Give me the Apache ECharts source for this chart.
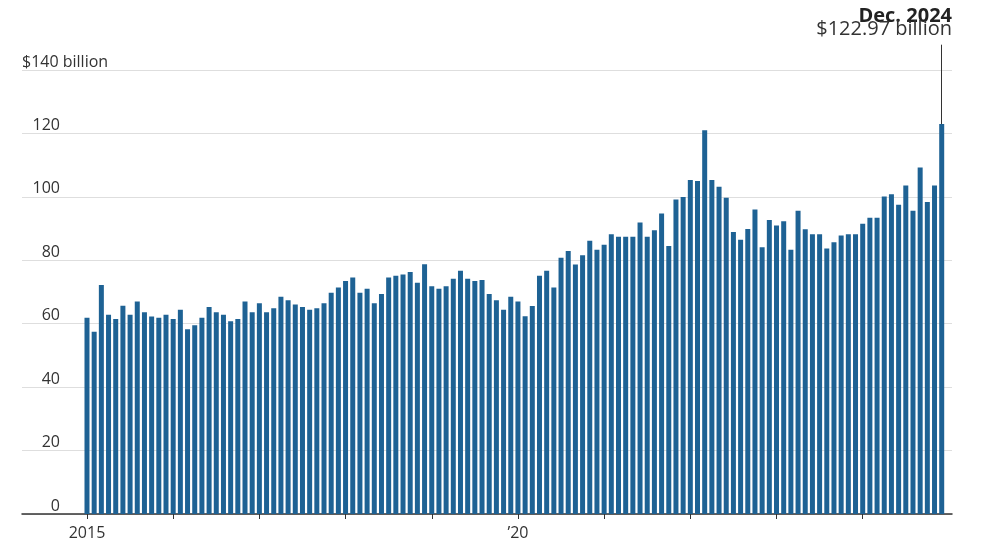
<!DOCTYPE html>
<html><head><meta charset="utf-8">
<script src="https://cdn.jsdelivr.net/npm/echarts@6/dist/echarts.min.js"></script>
<style>html,body{margin:0;padding:0;background:#fff}#c{width:1000px;height:545px}</style>
</head><body><div id="c"></div>
<script>
// ---- data ----
const years = [2015, 2016, 2017, 2018, 2019, 2020, 2021, 2022, 2023, 2024];
const monthNames = ['Jan','Feb','Mar','Apr','May','Jun','Jul','Aug','Sep','Oct','Nov','Dec'];
const v2015 = [61.9, 57.5, 72.2, 62.8, 61.5, 65.7, 62.8, 67.0, 63.6, 62.3, 61.9, 62.8];
const v2016 = [61.5, 64.4, 58.3, 59.5, 61.9, 65.3, 63.6, 62.8, 60.8, 61.5, 67.0, 63.6];
const v2017 = [66.5, 63.6, 64.9, 68.5, 67.4, 66.1, 65.3, 64.4, 64.9, 66.5, 69.8, 71.4];
const v2018 = [73.5, 74.6, 69.8, 71.0, 66.5, 69.4, 74.6, 75.1, 75.5, 76.3, 72.9, 78.8];
const v2019 = [71.8, 71.0, 71.8, 74.2, 76.7, 74.2, 73.5, 73.8, 69.4, 67.4, 64.4, 68.5];
const v2020 = [67.0, 62.4, 65.6, 75.1, 76.7, 71.4, 80.8, 82.9, 78.7, 81.6, 86.2, 83.3];
const v2021 = [84.9, 88.2, 87.4, 87.4, 87.4, 91.9, 87.4, 89.5, 94.8, 84.5, 99.2, 100.0];
const v2022 = [105.3, 105.0, 121.0, 105.3, 103.2, 99.7, 88.9, 86.5, 89.9, 96.0, 84.1, 92.7];
const v2023 = [91.0, 92.3, 83.3, 95.6, 89.8, 88.2, 88.2, 83.7, 85.7, 87.8, 88.2, 88.2];
const v2024 = [91.5, 93.4, 93.4, 100.1, 100.8, 97.5, 103.6, 95.6, 109.3, 98.4, 103.6, 122.97];
const yTicks = [0, 20, 40, 60, 80, 100, 120, 140];
const yTopLabel = '$140 billion';
const xTickLabels = {0: '2015', 60: '\u201920'};
const annotationTitle = 'Dec. 2024';
const annotationValue = '$122.97 billion';
const annotationLineTop = 148;

// ---- build ----
const categories = [];
years.forEach(y => monthNames.forEach(m => categories.push(m + ' ' + y)));
const values = [].concat(v2015, v2016, v2017, v2018, v2019, v2020, v2021, v2022, v2023, v2024);
const lastIdx = values.length - 1;

const FONT = '"Open Sans", "Noto Sans", sans-serif';
const chart = echarts.init(document.getElementById('c'), null, {renderer: 'canvas'});
chart.setOption({
  animation: false,
  backgroundColor: '#fff',
  grid: [
    {left: 22, right: 48, top: 70, bottom: 31},
    {left: 83.4, right: 54.7, top: 38.35, bottom: 31}
  ],
  xAxis: [
    {gridIndex: 0, type: 'value', min: 0, max: 1, position: 'bottom',
     axisLine: {show: true, lineStyle: {color: '#333', width: 1.5}},
     axisTick: {show: false}, axisLabel: {show: false}, splitLine: {show: false}},
    {gridIndex: 1, type: 'category', data: categories, boundaryGap: true,
     axisLine: {show: false},
     axisTick: {show: true, alignWithLabel: true, length: 5,
       interval: (i) => i % 12 === 0, lineStyle: {color: '#333', width: 1}},
     axisLabel: {show: true, interval: (i) => xTickLabels[i] !== undefined,
       formatter: (v, i) => xTickLabels[i] || '', margin: 11,
       color: '#333', fontSize: 16, fontFamily: FONT},
     splitLine: {show: false}}
  ],
  yAxis: [
    {gridIndex: 0, type: 'value', min: yTicks[0], max: yTicks[yTicks.length - 1], interval: 20,
     axisLine: {show: false}, axisTick: {show: false},
     splitLine: {show: true, lineStyle: {color: '#dedede', width: 1}},
     axisLabel: {inside: true, margin: 0, align: 'left', verticalAlign: 'bottom',
       padding: [0, 0, 0, 0],
       formatter: v => v === yTicks[yTicks.length - 1] ? '{t|' + yTopLabel + '}' : '{n|' + v + '}',
       rich: {
         n: {width: 38, align: 'right', fontSize: 16, color: '#333', fontFamily: FONT},
         t: {fontSize: 16, color: '#333', fontFamily: FONT}
       }}},
    {gridIndex: 1, type: 'value', min: 0, max: 150, show: false}
  ],
  series: [{
    type: 'bar', xAxisIndex: 1, yAxisIndex: 1, data: values,
    barWidth: 5, itemStyle: {color: '#1e6294'},
    markLine: {
      silent: true, symbol: ['none', 'none'], label: {show: false},
      lineStyle: {color: '#333', width: 1, type: 'solid'},
      data: [[{coord: [categories[lastIdx], values[lastIdx]]}, {coord: [categories[lastIdx], annotationLineTop]}]]
    }
  }],
  graphic: [
    {type: 'text', right: 48, top: 6, style: {text: annotationTitle, font: 'bold 20px ' + FONT, fill: '#222'}},
    {type: 'text', right: 48, top: 19, style: {text: annotationValue, font: '20px ' + FONT, fill: '#333'}}
  ]
});
</script>
</body></html>
